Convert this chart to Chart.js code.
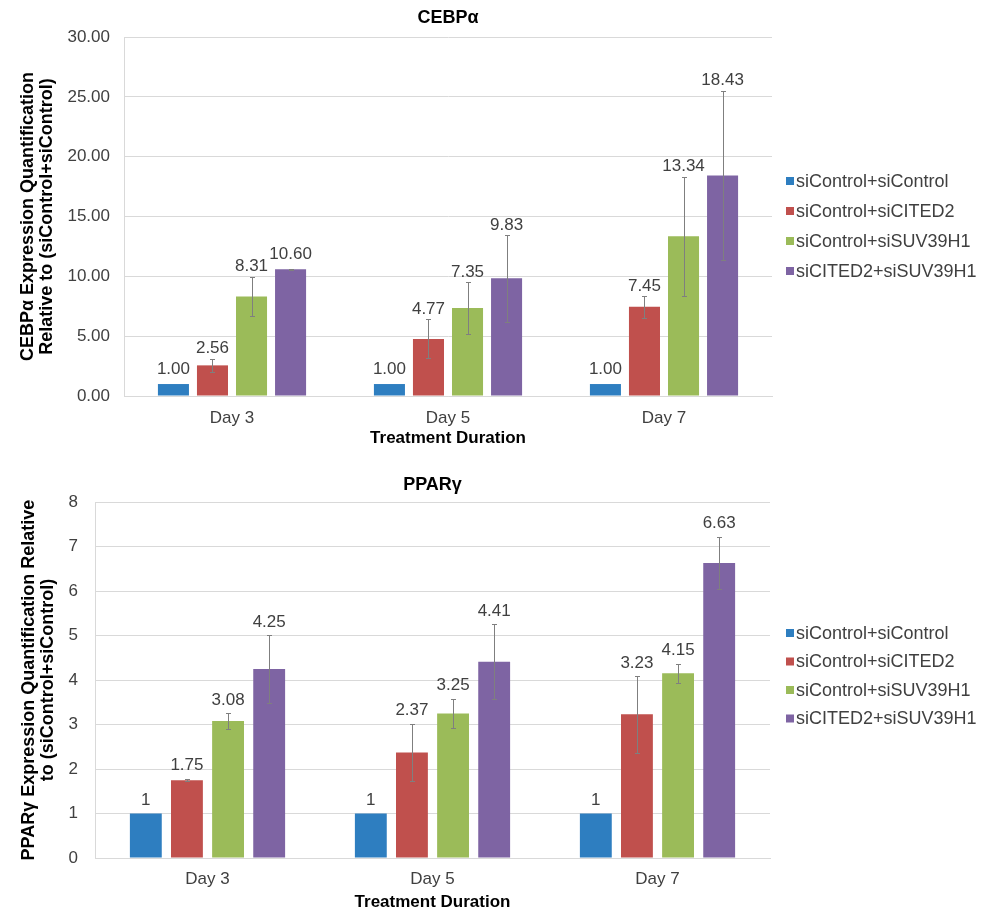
<!DOCTYPE html>
<html><head><meta charset="utf-8">
<script src="https://cdn.jsdelivr.net/npm/chart.js@4.4.1/dist/chart.umd.min.js"></script>
<style>
html,body{margin:0;padding:0;background:#fff;}
#wrap{position:relative;width:987px;height:912px;overflow:hidden;}
.cw{position:absolute;left:0;width:987px;}
</style></head><body>
<div id="wrap">
  <div class="cw" style="top:0;height:450px;"><canvas id="c1" width="987" height="450"></canvas></div>
  <div class="cw" style="top:450px;height:462px;"><canvas id="c2" width="987" height="462"></canvas></div>
</div>
<script>
// ---------- data ----------
const categories = ['Day 3', 'Day 5', 'Day 7'];
const seriesLabels = ['siControl+siControl', 'siControl+siCITED2', 'siControl+siSUV39H1', 'siCITED2+siSUV39H1'];
const seriesColors = ['#2E7EC0', '#C0504D', '#9BBB59', '#7E64A3'];

// CEBPα
const cebpaCtrlCtrl   = [1.00, 1.00, 1.00];
const cebpaCtrlCited2 = [2.56, 4.77, 7.45];
const cebpaCtrlSuv    = [8.31, 7.35, 13.34];
const cebpaCitedSuv   = [10.60, 9.83, 18.43];
const cebpaErrCtrlCtrl   = [0, 0, 0];
const cebpaErrCtrlCited2 = [0.55, 1.63, 0.92];
const cebpaErrCtrlSuv    = [1.65, 2.16, 5.00];
const cebpaErrCitedSuv   = [0.05, 3.63, 7.08];

// PPARγ
const ppargCtrlCtrl   = [1, 1, 1];
const ppargCtrlCited2 = [1.75, 2.37, 3.23];
const ppargCtrlSuv    = [3.08, 3.25, 4.15];
const ppargCitedSuv   = [4.25, 4.41, 6.63];
const ppargErrCtrlCtrl   = [0, 0, 0];
const ppargErrCtrlCited2 = [0.03, 0.65, 0.86];
const ppargErrCtrlSuv    = [0.18, 0.33, 0.22];
const ppargErrCitedSuv   = [0.76, 0.84, 0.59];

// ---------- helpers ----------
const FONT = "'Liberation Sans', Arial, sans-serif";

const overlay = {
  id: 'overlay',
  afterDatasetsDraw(chart, args, opts) {
    const ctx = chart.ctx;
    const ys = chart.scales.y;
    ctx.save();
    // error bars
    chart.data.datasets.forEach((ds, di) => {
      const meta = chart.getDatasetMeta(di);
      meta.data.forEach((bar, i) => {
        const v = ds.data[i], e = ds.errors[i];
        if (e > 0) {
          const yt = Math.round(ys.getPixelForValue(v + e)) + 0.5;
          const yb = Math.round(ys.getPixelForValue(v - e)) + 0.5;
          const x = Math.round(bar.x) + 0.5;
          ctx.strokeStyle = '#7f7f7f';
          ctx.lineWidth = 1;
          ctx.beginPath();
          ctx.moveTo(x, yt); ctx.lineTo(x, yb);
          ctx.moveTo(x - 2.5, yt); ctx.lineTo(x + 2.5, yt);
          ctx.moveTo(x - 2.5, yb); ctx.lineTo(x + 2.5, yb);
          ctx.stroke();
        }
      });
    });
    // data labels
    ctx.font = opts.labelSize + 'px ' + FONT;
    ctx.fillStyle = '#404040';
    ctx.textAlign = 'center';
    ctx.textBaseline = 'middle';
    chart.data.datasets.forEach((ds, di) => {
      const meta = chart.getDatasetMeta(di);
      meta.data.forEach((bar, i) => {
        const v = ds.data[i], e = ds.errors[i];
        const errTop = ys.getPixelForValue(v + e);
        const barTop = ys.getPixelForValue(v);
        const ly = Math.min(errTop - opts.errGap, barTop - opts.barGap);
        const txt = opts.decimals >= 0 ? v.toFixed(opts.decimals) : String(v);
        ctx.fillText(txt, bar.x, ly);
      });
    });
    // legend
    const L = opts.legend;
    ctx.font = L.size + 'px ' + FONT;
    ctx.textAlign = 'left';
    ctx.textBaseline = 'middle';
    chart.data.datasets.forEach((ds, di) => {
      const cy = L.y + di * L.step;
      ctx.fillStyle = ds.backgroundColor;
      ctx.fillRect(L.x, cy - L.box / 2, L.box, L.box);
      ctx.fillStyle = '#404040';
      ctx.fillText(ds.label, L.x + L.box + 2, cy + 1);
    });
    ctx.restore();
  }
};

function makeChart(id, cfg) {
  const datasets = cfg.values.map((vals, k) => ({
    label: seriesLabels[k],
    data: vals,
    errors: cfg.errors[k],
    backgroundColor: seriesColors[k],
    borderWidth: 0,
    categoryPercentage: cfg.catPct,
    barPercentage: cfg.barPct
  }));
  return new Chart(document.getElementById(id), {
    type: 'bar',
    data: { labels: categories, datasets },
    plugins: [overlay],
    options: {
      responsive: false,
      animation: false,
      layout: { padding: { left: 0, right: cfg.padRight, top: 0, bottom: 0 } },
      plugins: {
        legend: { display: false },
        tooltip: { enabled: false },
        title: {
          display: true,
          text: cfg.title,
          fullSize: false,
          color: '#000',
          font: { family: FONT, size: 18, weight: 'bold', lineHeight: 1.2 },
          padding: cfg.titlePad
        },
        overlay: {
          labelSize: 17,
          errGap: cfg.errGap,
          barGap: cfg.barGap,
          decimals: cfg.decimals,
          legend: cfg.legend
        }
      },
      scales: {
        x: {
          grid: { display: false, drawTicks: false },
          border: { display: true, color: '#d9d9d9' },
          ticks: { color: '#404040', font: { family: FONT, size: 17 }, padding: cfg.xTickPad },
          title: {
            display: true, text: 'Treatment Duration', color: '#000',
            font: { family: FONT, size: 17, weight: 'bold', lineHeight: 1.1 },
            padding: { top: 0, bottom: cfg.xTitlePadBottom }
          },
          afterFit(s) { s.height = cfg.xHeight; }
        },
        y: {
          min: 0, max: cfg.yMax,
          grid: { color: '#d9d9d9', drawTicks: false },
          border: { display: true, color: '#d9d9d9' },
          ticks: {
            stepSize: cfg.yStep, color: '#404040', padding: cfg.yTickPad,
            font: { family: FONT, size: 17 },
            callback: (v) => cfg.decimals >= 0 ? Number(v).toFixed(cfg.decimals) : String(v)
          },
          title: {
            display: true, text: cfg.yTitle, color: '#000',
            font: { family: FONT, size: 18, weight: 'bold', lineHeight: 1.08 },
            padding: { top: cfg.yTitlePadTop, bottom: 0 }
          },
          afterFit(s) { s.width = cfg.yWidth; }
        }
      }
    }
  });
}

makeChart('c1', {
  title: 'CEBPα',
  values: [cebpaCtrlCtrl, cebpaCtrlCited2, cebpaCtrlSuv, cebpaCitedSuv],
  errors: [cebpaErrCtrlCtrl, cebpaErrCtrlCited2, cebpaErrCtrlSuv, cebpaErrCitedSuv],
  yTitle: ['CEBPα Expression Quantification', 'Relative to (siControl+siControl)'],
  yMax: 30, yStep: 5, decimals: 2,
  catPct: 0.723, barPct: 0.795,
  padRight: 215, yWidth: 124, xHeight: 54,
  titlePad: { top: 7, bottom: 8.4 },
  xTickPad: 12, xTitlePadBottom: 2, yTickPad: 14, yTitlePadTop: 18,
  errGap: 10, barGap: 15,
  legend: { x: 786, y: 181, step: 30, box: 8, size: 18 }
});

makeChart('c2', {
  title: 'PPARγ',
  values: [ppargCtrlCtrl, ppargCtrlCited2, ppargCtrlSuv, ppargCitedSuv],
  errors: [ppargErrCtrlCtrl, ppargErrCtrlCited2, ppargErrCtrlSuv, ppargErrCitedSuv],
  yTitle: ['PPARγ Expression Quantification Relative', 'to (siControl+siControl)'],
  yMax: 8, yStep: 1, decimals: -1,
  catPct: 0.731, barPct: 0.775,
  padRight: 217, yWidth: 95, xHeight: 54,
  titlePad: { top: 24, bottom: 6.4 },
  xTickPad: 11, xTitlePadBottom: 0, yTickPad: 17, yTitlePadTop: 19,
  errGap: 13, barGap: 13,
  legend: { x: 786, y: 183, step: 28.5, box: 8, size: 18 }
});
</script>
</body></html>
